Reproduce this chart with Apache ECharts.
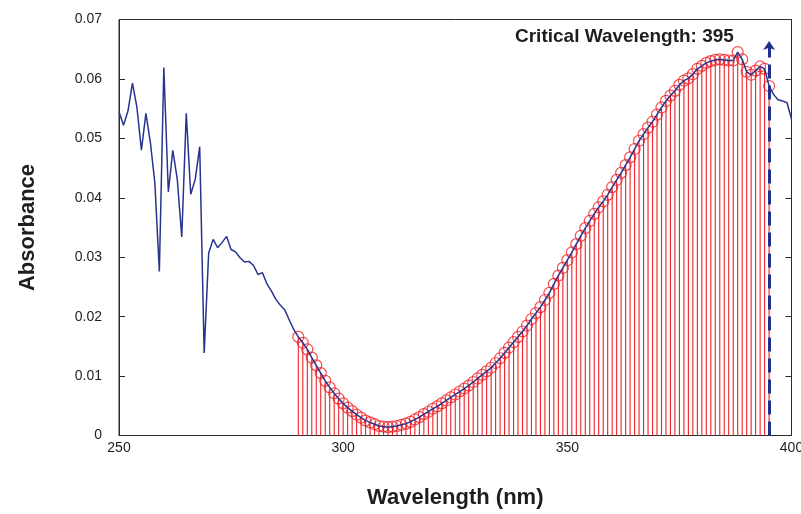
<!DOCTYPE html>
<html>
<head>
<meta charset="utf-8">
<script src="https://cdn.jsdelivr.net/npm/echarts@6/dist/echarts.min.js"></script>
<style>
  html, body { margin: 0; padding: 0; background: #ffffff; }
  #chart { width: 801px; height: 514px; }
</style>
</head>
<body>
<div id="chart"></div>
<script>
// Absorbance spectrum sampled every 1 nm starting at 250 nm
const startNm = 250;
const stepNm = 1;
const absorbance = [
  0.0545, 0.0522, 0.0546, 0.0593, 0.0552, 0.0480, 0.0542, 0.0493, 0.0425, 0.0276, // 250-259
  0.0619, 0.0410, 0.0480, 0.0431, 0.0334, 0.0542, 0.0406, 0.0431, 0.0486, 0.0139, // 260-269
  0.0307, 0.0330, 0.0316, 0.0325, 0.0335, 0.0313, 0.0309, 0.0299, 0.0292, 0.0293, // 270-279
  0.0286, 0.0271, 0.0274, 0.0255, 0.0243, 0.0229, 0.0219, 0.0211, 0.0194, 0.0178, // 280-289
  0.0166, 0.0156, 0.0145, 0.0131, 0.0118, 0.0105, 0.0092, 0.0081, 0.0071, 0.0062, // 290-299
  0.0054, 0.0047, 0.0041, 0.0035, 0.0030, 0.0025, 0.0022, 0.0019, 0.0016, 0.0015, // 300-309
  0.0014, 0.0015, 0.0016, 0.0018, 0.0020, 0.0023, 0.0027, 0.0031, 0.0036, 0.0040, // 310-319
  0.0045, 0.0049, 0.0054, 0.0059, 0.0064, 0.0069, 0.0074, 0.0079, 0.0084, 0.0090, // 320-329
  0.0096, 0.0102, 0.0108, 0.0114, 0.0122, 0.0130, 0.0139, 0.0148, 0.0157, 0.0166, // 330-339
  0.0175, 0.0185, 0.0196, 0.0206, 0.0216, 0.0228, 0.0240, 0.0255, 0.0269, 0.0282, // 340-349
  0.0295, 0.0308, 0.0322, 0.0336, 0.0349, 0.0361, 0.0373, 0.0384, 0.0394, 0.0405, // 350-359
  0.0418, 0.0430, 0.0442, 0.0455, 0.0468, 0.0482, 0.0496, 0.0507, 0.0518, 0.0528, // 360-369
  0.0540, 0.0552, 0.0563, 0.0572, 0.0580, 0.0590, 0.0597, 0.0601, 0.0608, 0.0617, // 370-379
  0.0622, 0.0627, 0.0630, 0.0632, 0.0633, 0.0632, 0.0631, 0.0631, 0.0645, 0.0633, // 380-389
  0.0612, 0.0607, 0.0614, 0.0621, 0.0617, 0.0588, 0.0574, 0.0565, 0.0563, 0.0560, // 390-399
  0.0533                                                                            // 400
];

// Integration range shown as stems, ending at the critical wavelength
const stemStartNm = 290;
const criticalWavelength = 395;
const arrowTopAbs = 0.0664;

// Axis settings
const xMin = 250, xMax = 400, xStep = 50;
const yMin = 0, yMax = 0.07, yStep = 0.01;

const spectrum = absorbance.map((a, i) => [startNm + i * stepNm, a]);
const stems = spectrum.filter(p => p[0] >= stemStartNm && p[0] <= criticalWavelength);

const FONT = "'Liberation Sans', Arial, sans-serif";
const AXIS_COLOR = '#2a2a2a';
const TEXT_COLOR = '#1e1e1e';
const RED = '#ee2228';
const BLUE = '#26348e';

const chart = echarts.init(document.getElementById('chart'), null, { renderer: 'canvas' });

chart.setOption({
  animation: false,
  backgroundColor: '#ffffff',
  title: {
    text: 'Critical Wavelength: ' + criticalWavelength,
    left: 515,
    top: 27,
    padding: 0,
    textStyle: { fontFamily: FONT, fontSize: 19, fontWeight: 'bold', color: TEXT_COLOR }
  },
  grid: {
    left: 119, right: 9.5, top: 19.5, bottom: 78.5,
    containLabel: false,
    outerBoundsMode: 'none',
    show: true, borderColor: AXIS_COLOR, borderWidth: 1, backgroundColor: 'transparent'
  },
  xAxis: {
    type: 'value', min: xMin, max: xMax, interval: xStep,
    name: 'Wavelength (nm)', nameLocation: 'middle', nameGap: 51,
    nameTextStyle: { fontFamily: FONT, fontSize: 22, fontWeight: 'bold', color: TEXT_COLOR },
    axisLine: { show: true, lineStyle: { color: AXIS_COLOR, width: 1 } },
    axisTick: { show: false },
    splitLine: { show: false },
    axisLabel: { margin: 6, fontFamily: FONT, fontSize: 14, color: TEXT_COLOR }
  },
  yAxis: [
    {
      type: 'value', min: yMin, max: yMax, interval: yStep,
      name: 'Absorbance', nameLocation: 'middle', nameGap: 80, nameRotate: 90,
      nameTextStyle: { fontFamily: FONT, fontSize: 22, fontWeight: 'bold', color: TEXT_COLOR },
      axisLine: { show: true, lineStyle: { color: AXIS_COLOR, width: 1 } },
      axisTick: { show: true, inside: true, length: 6, lineStyle: { color: AXIS_COLOR } },
      splitLine: { show: false },
      axisLabel: {
        margin: 17, fontFamily: FONT, fontSize: 14, color: TEXT_COLOR,
        formatter: v => (v === 0 ? '0' : v.toFixed(2))
      }
    },
    {
      type: 'value', min: yMin, max: yMax, interval: yStep, position: 'right',
      axisLine: { show: true, lineStyle: { color: AXIS_COLOR, width: 1 } },
      axisTick: { show: true, inside: true, length: 6, lineStyle: { color: AXIS_COLOR } },
      splitLine: { show: false },
      axisLabel: { show: false }
    }
  ],
  series: [
    {
      // vertical stems from the baseline to each sample
      type: 'custom',
      data: stems,
      silent: true,
      z: 2,
      renderItem: (params, api) => {
        const top = api.coord([api.value(0), api.value(1)]);
        const base = api.coord([api.value(0), 0]);
        return {
          type: 'line',
          shape: { x1: base[0], y1: base[1], x2: top[0], y2: top[1] },
          style: { stroke: RED, lineWidth: 1.1 }
        };
      }
    },
    {
      type: 'scatter',
      data: stems,
      symbol: 'circle',
      symbolSize: 11,
      silent: true,
      z: 3,
      itemStyle: { color: 'rgba(255,255,255,0)', borderColor: RED, borderWidth: 1.2 }
    },
    {
      type: 'line',
      data: spectrum,
      showSymbol: false,
      silent: true,
      z: 4,
      lineStyle: { color: BLUE, width: 1.5 },
      markLine: {
        silent: true,
        symbol: ['none', 'arrow'],
        symbolSize: 9,
        label: { show: false },
        lineStyle: { color: '#1f2f8c', width: 3, type: [14, 7] },
        data: [[{ coord: [criticalWavelength, 0] }, { coord: [criticalWavelength, arrowTopAbs] }]]
      }
    }
  ]
});
</script>
</body>
</html>
